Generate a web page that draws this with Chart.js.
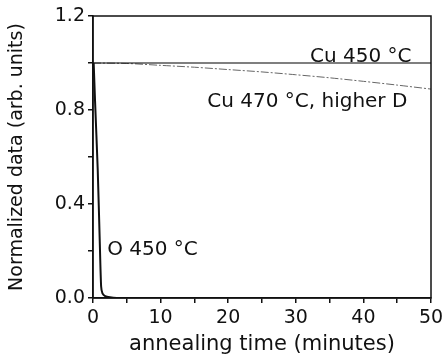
<!DOCTYPE html>
<html>
<head>
<meta charset="utf-8">
<script src="https://cdn.jsdelivr.net/npm/chart.js@4"></script>
<style>
  html, body { margin: 0; padding: 0; background: #fff; }
  #wrap { width: 443px; height: 362px; }
</style>
</head>
<body>
<div id="wrap"><canvas id="chart"></canvas></div>
<script>
// values
const oTime = [0.1, 0.3, 0.7, 1.0, 1.2, 1.4, 1.8, 2.5, 3.5, 5];
const oValue = [1.0, 0.84, 0.545, 0.24, 0.05, 0.02, 0.008, 0.003, 0.0, 0.0];

const cu450Time = [0, 50];
const cu450Value = [1.0, 1.0];

const cu470Time = [0, 5, 10, 15, 20, 25, 30, 35, 40, 45, 50];
const cu470Value = [1.0, 0.998, 0.99, 0.982, 0.972, 0.962, 0.95, 0.937, 0.922, 0.906, 0.889];

const xTickLabels = [0, 10, 20, 30, 40, 50];
const yTickLabels = [0.0, 0.4, 0.8, 1.2];

// text labels placed in data coordinates
const notes = [
  { text: 'Cu 450 °C', x: 32.1, y: 1.0 },
  { text: 'Cu 470 °C, higher D', x: 16.9, y: 0.81 },
  { text: 'O 450 °C', x: 2.1, y: 0.18 }
];

const toPoints = (xs, ys) => xs.map((x, i) => ({ x: x, y: ys[i] }));
const font = 'DejaVu Sans';

const framePlugin = {
  id: 'frame',
  afterDraw(chart) {
    const { ctx, chartArea: a, scales } = chart;
    ctx.save();
    ctx.strokeStyle = '#111';
    ctx.lineWidth = 1.5;
    ctx.strokeRect(a.left, a.top, a.right - a.left, a.bottom - a.top);
    ctx.fillStyle = '#111';
    ctx.font = '20px "' + font + '"';
    ctx.textBaseline = 'alphabetic';
    notes.forEach(n => {
      ctx.fillText(n.text, scales.x.getPixelForValue(n.x), scales.y.getPixelForValue(n.y) - 1);
    });
    ctx.restore();
  }
};

new Chart(document.getElementById('chart').getContext('2d'), {
  type: 'scatter',
  data: {
    datasets: [
      {
        label: 'O 450 °C',
        data: toPoints(oTime, oValue),
        showLine: true,
        borderColor: '#111',
        borderWidth: 2,
        pointRadius: 0,
        tension: 0.2
      },
      {
        label: 'Cu 450 °C',
        data: toPoints(cu450Time, cu450Value),
        showLine: true,
        borderColor: '#000',
        borderWidth: 1.2,
        pointRadius: 0
      },
      {
        label: 'Cu 470 °C, higher D',
        data: toPoints(cu470Time, cu470Value),
        showLine: true,
        borderColor: '#666',
        borderWidth: 1,
        borderDash: [8, 2, 2, 2],
        pointRadius: 0,
        tension: 0.3
      }
    ]
  },
  options: {
    responsive: true,
    maintainAspectRatio: false,
    animation: false,
    layout: { padding: { top: 16, right: 0, left: 0, bottom: 0 } },
    plugins: {
      legend: { display: false },
      tooltip: { enabled: false }
    },
    scales: {
      x: {
        type: 'linear',
        min: 0,
        max: 50,
        border: { display: true, color: '#111', width: 1.5 },
        grid: { drawOnChartArea: false, drawTicks: true, tickLength: 5, color: '#111', lineWidth: 1.5 },
        ticks: {
          stepSize: 5,
          maxRotation: 0,
          padding: 4,
          color: '#111',
          font: { family: font, size: 19 },
          callback: v => xTickLabels.includes(v) ? String(v) : ''
        },
        title: {
          display: true,
          text: 'annealing time (minutes)',
          color: '#111',
          font: { family: font, size: 21 },
          padding: { top: 4, bottom: 5 }
        },
        afterFit: s => { s.height = 64; s.paddingRight = 12; }
      },
      y: {
        min: 0,
        max: 1.2,
        border: { display: true, color: '#111', width: 1.5 },
        grid: { drawOnChartArea: false, drawTicks: true, tickLength: 5, color: '#111', lineWidth: 1.5 },
        ticks: {
          stepSize: 0.1,
          padding: 3,
          color: '#111',
          font: { family: font, size: 19 },
          callback: v => {
            const r = Math.round(v * 10) / 10;
            return yTickLabels.some(t => Math.abs(t - r) < 1e-6) && Math.abs(v - r) < 1e-6 ? r.toFixed(1) : '';
          }
        },
        title: {
          display: true,
          text: 'Normalized data (arb. units)',
          color: '#111',
          font: { family: font, size: 19 },
          padding: { top: 6, bottom: 0 }
        },
        afterFit: s => { s.width = 93; }
      }
    }
  },
  plugins: [framePlugin]
});
</script>
</body>
</html>
